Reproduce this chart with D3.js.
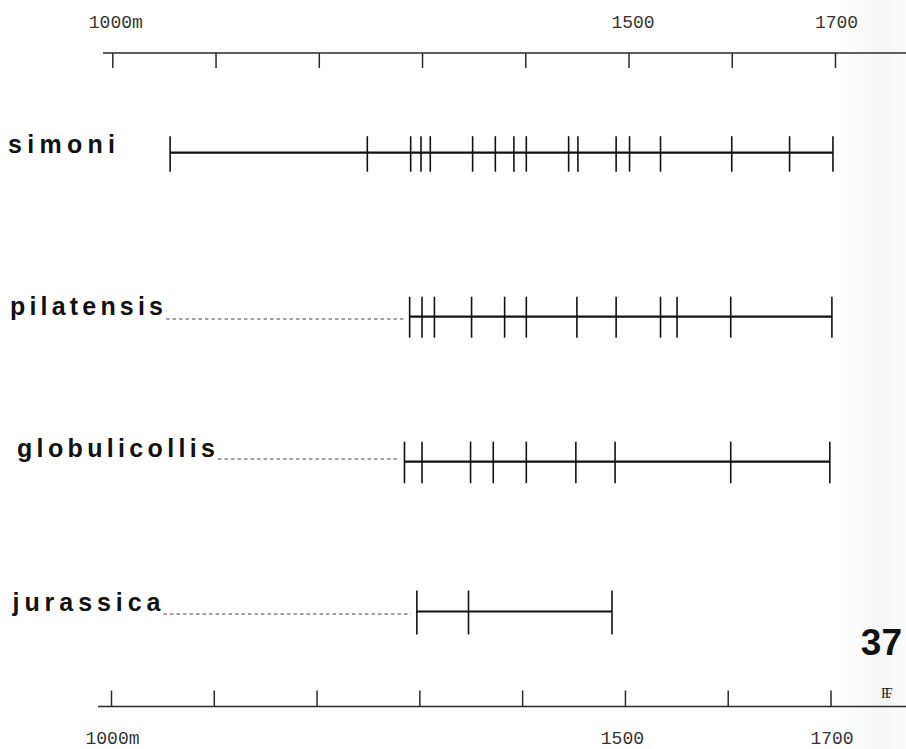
<!DOCTYPE html>
<html>
<head>
<meta charset="utf-8">
<script src="https://cdn.jsdelivr.net/npm/d3@7"></script>
<style>
  html, body { margin: 0; padding: 0; background: #fff; }
  svg { display: block; }
</style>
</head>
<body>
<script>
// ---- data ----
const species = ["simoni", "pilatensis", "globulicollis", "jurassica"];
const simoniRecords = [1056, 1247, 1289, 1299, 1308, 1349, 1371, 1389, 1401, 1442, 1451, 1488, 1501, 1531, 1600, 1656, 1698];
const pilatensisRecords = [1288, 1300, 1312, 1348, 1380, 1401, 1450, 1488, 1531, 1547, 1599, 1697];
const globulicollisRecords = [1283, 1300, 1347, 1369, 1401, 1449, 1487, 1599, 1695];
const jurassicaRecords = [1295, 1345, 1484];
const axisTicks = [1000, 1100, 1200, 1300, 1400, 1500, 1600, 1700];
const tickLabels = { 1000: "1000m", 1500: "1500", 1700: "1700" };
const plateNumber = "37";

const records = [simoniRecords, pilatensisRecords, globulicollisRecords, jurassicaRecords];

// ---- layout ----
const W = 906, H = 749;
const svg = d3.select("body").append("svg").attr("width", W).attr("height", H);

// very subtle paper shading at right edge
const defs = svg.append("defs");
const grad = defs.append("linearGradient").attr("id", "shade").attr("x1", 0).attr("x2", 1).attr("y1", 0).attr("y2", 0);
grad.append("stop").attr("offset", "0").attr("stop-color", "#f6f6f6").attr("stop-opacity", 0);
grad.append("stop").attr("offset", "0.6").attr("stop-color", "#f6f6f6").attr("stop-opacity", 1);
grad.append("stop").attr("offset", "1").attr("stop-color", "#fafafa").attr("stop-opacity", 1);
svg.append("rect").attr("x", 840).attr("y", 0).attr("width", 66).attr("height", H).attr("fill", "url(#shade)");

const xTop = d3.scaleLinear().domain([1000, 1700]).range([112.3, 835]);
const xBottom = d3.scaleLinear().domain([1000, 1700]).range([111, 830.5]);

const monoFont = "'Liberation Mono', 'DejaVu Sans Mono', monospace";
const axisColor = "#2a2a2a";

// ---- top axis ----
const topY = 53;
svg.append("line").attr("x1", 103).attr("x2", W).attr("y1", topY).attr("y2", topY)
  .attr("stroke", axisColor).attr("stroke-width", 1.4);
const gTop = svg.append("g").attr("transform", `translate(0,${topY})`)
  .call(d3.axisTop(xTop).tickValues(axisTicks).tickSizeInner(-15).tickSizeOuter(0).tickPadding(25)
    .tickFormat(d => tickLabels[d] || ""));
gTop.select(".domain").remove();
gTop.selectAll(".tick line").attr("stroke", axisColor).attr("stroke-width", 1.5);
gTop.selectAll(".tick text").attr("font-family", monoFont).attr("font-size", 18)
  .attr("fill", "#333").attr("dy", 0).attr("dx", d => d === 1000 ? 3 : (d === 1500 ? 4 : 1));

// ---- bottom axis ----
const botY = 706.5;
svg.append("line").attr("x1", 98).attr("x2", W).attr("y1", botY).attr("y2", botY)
  .attr("stroke", axisColor).attr("stroke-width", 1.4);
const gBot = svg.append("g").attr("transform", `translate(0,${botY})`)
  .call(d3.axisBottom(xBottom).tickValues(axisTicks).tickSizeInner(-16).tickSizeOuter(0).tickPadding(37)
    .tickFormat(d => tickLabels[d] || ""));
gBot.select(".domain").remove();
gBot.selectAll(".tick line").attr("stroke", axisColor).attr("stroke-width", 1.5);
gBot.selectAll(".tick text").attr("font-family", monoFont).attr("font-size", 18)
  .attr("fill", "#333").attr("dy", 0).attr("dx", d => d === 1500 ? -3 : 1);

// ---- species rows ----
const rowY = [152.7, 316.7, 461.7, 611.5];
const labelX = [8, 10, 17, 12.5];
const labelBase = [153, 315, 457, 611];
const labelWidth = [107, 153, 198, 148];
const tickUp = [16.5, 20, 20, 21];
const tickDown = [19, 21, 21.5, 23];
const dashY = [null, 319, 459, 614];

species.forEach((name, i) => {
  const vals = records[i];
  const g = svg.append("g");
  g.append("text")
    .attr("x", labelX[i]).attr("y", labelBase[i])
    .attr("font-family", "'Liberation Sans', Arial, Helvetica, sans-serif")
    .attr("font-weight", "bold").attr("font-size", 25)
    .attr("fill", "#111")
    .attr("textLength", labelWidth[i]).attr("lengthAdjust", "spacing")
    .text(name);

  const x0 = xTop(d3.min(vals)), x1 = xTop(d3.max(vals));
  if (dashY[i] !== null) {
    g.append("line")
      .attr("x1", labelX[i] + labelWidth[i] + 3).attr("x2", x0 - 6)
      .attr("y1", dashY[i]).attr("y2", dashY[i])
      .attr("stroke", "#444").attr("stroke-width", 1)
      .attr("stroke-dasharray", "3.5,3");
  }
  g.append("line").attr("x1", x0).attr("x2", x1).attr("y1", rowY[i]).attr("y2", rowY[i])
    .attr("stroke", "#111").attr("stroke-width", 2.2);
  g.selectAll("line.rec").data(vals).join("line").attr("class", "rec")
    .attr("x1", d => xTop(d)).attr("x2", d => xTop(d))
    .attr("y1", rowY[i] - tickUp[i]).attr("y2", rowY[i] + tickDown[i])
    .attr("stroke", "#111").attr("stroke-width", 1.6);
});

// ---- plate number and mark ----
svg.append("text").attr("x", 902).attr("y", 655).attr("text-anchor", "end")
  .attr("font-family", "'Liberation Sans', Arial, sans-serif").attr("font-weight", "bold")
  .attr("font-size", 37).attr("fill", "#111").text(plateNumber);
svg.append("text").attr("x", 881).attr("y", 698)
  .attr("font-family", "'Liberation Serif', serif").attr("font-size", 14)
  .attr("letter-spacing", -4).attr("fill", "#222").text("FF.");
</script>
</body>
</html>
